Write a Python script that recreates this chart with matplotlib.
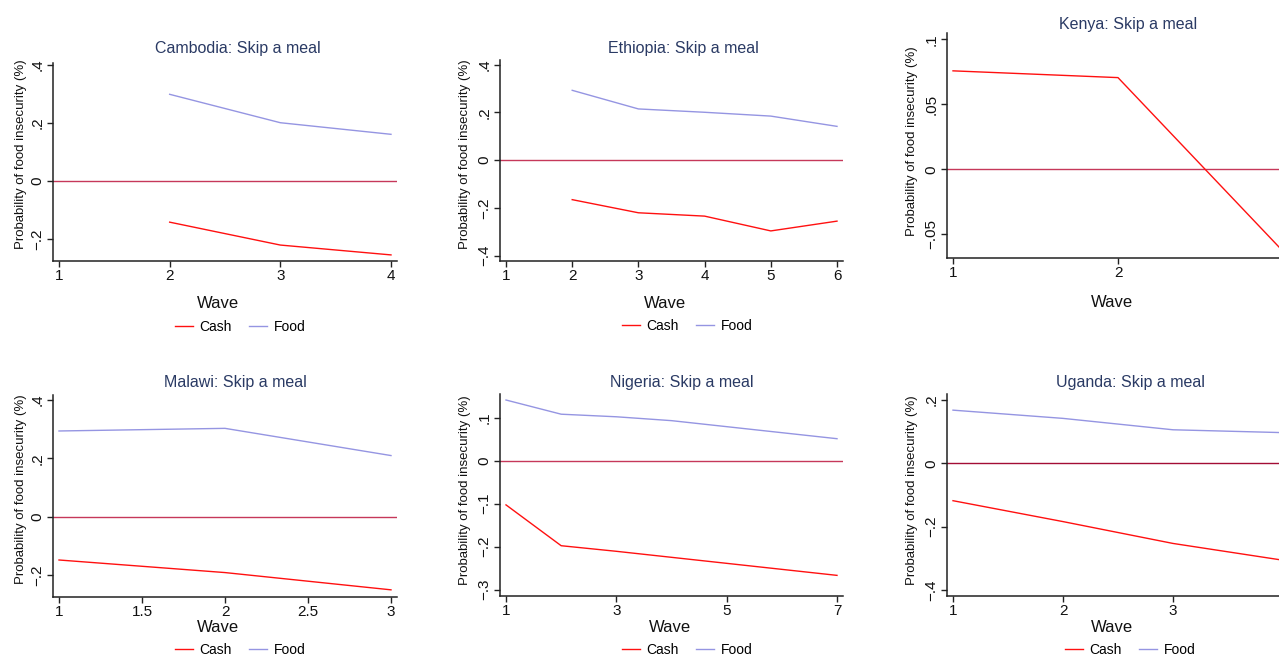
import matplotlib
matplotlib.use("Agg")
import matplotlib.pyplot as plt
from matplotlib.lines import Line2D

plt.rcParams['font.family'] = ['Liberation Sans', 'DejaVu Sans']

# ---- data ----
countries = ["Cambodia", "Ethiopia", "Kenya", "Malawi", "Nigeria", "Uganda"]

cambodia_waves = [2, 3, 4]
cambodia_cash = [-0.142, -0.221, -0.255]
cambodia_food = [0.299, 0.201, 0.161]

ethiopia_waves = [2, 3, 4, 5, 6]
ethiopia_cash = [-0.166, -0.221, -0.235, -0.297, -0.256]
ethiopia_food = [0.292, 0.214, 0.200, 0.184, 0.141]

kenya_waves = [1, 2, 3]
kenya_cash = [0.0757, 0.0705, -0.063]
kenya_food = None

malawi_waves = [1, 2, 3]
malawi_cash = [-0.147, -0.190, -0.249]
malawi_food = [0.294, 0.303, 0.210]

nigeria_waves = [1, 2, 3, 4, 5, 6, 7]
nigeria_cash = [-0.103, -0.198, -0.211, -0.225, -0.239, -0.253, -0.267]
nigeria_food = [0.141, 0.108, 0.102, 0.093, 0.079, 0.065, 0.051]

uganda_waves = [1, 2, 3, 4]
uganda_cash = [-0.118, -0.184, -0.253, -0.306]
uganda_food = [0.168, 0.142, 0.106, 0.097]

waves = [cambodia_waves, ethiopia_waves, kenya_waves, malawi_waves, nigeria_waves, uganda_waves]
cash = [cambodia_cash, ethiopia_cash, kenya_cash, malawi_cash, nigeria_cash, uganda_cash]
food = [cambodia_food, ethiopia_food, kenya_food, malawi_food, nigeria_food, uganda_food]

xticks = [[1, 2, 3, 4], [1, 2, 3, 4, 5, 6], [1, 2, 3], [1, 1.5, 2, 2.5, 3], [1, 3, 5, 7], [1, 2, 3, 4]]
yticks = [[-0.2, 0, 0.2, 0.4], [-0.4, -0.2, 0, 0.2, 0.4], [-0.05, 0, 0.05, 0.1],
          [-0.2, 0, 0.2, 0.4], [-0.3, -0.2, -0.1, 0, 0.1], [-0.4, -0.2, 0, 0.2]]

# ---- layout (pixels in a 1279x656 canvas; right column runs past the edge) ----
W, H = 1279, 656
# plot boxes: left, right, top, bottom
boxes = [(53, 397, 63, 261), (500, 843, 60, 261), (947, 1289, 33, 258),
         (53, 397, 395, 597), (500, 843, 394, 596), (947, 1289, 394, 596)]
ylims = [(-0.276, 0.407), (-0.423, 0.419), (-0.0682, 0.1048),
         (-0.2735, 0.417), (-0.315, 0.155), (-0.419, 0.219)]
title_pos = [(238, 48), (683, 48), (1128, 24), (235, 383), (682, 383), (1130, 383)]
wave_pos = [(218, 304), (665, 304), (1112, 302), (218, 628), (670, 628), (1112, 628)]
ylab_pos = [(21, 154), (465, 154), (912, 141), (21, 489), (465, 490), (912, 490)]
legend_pos = [(240, 327), (687, 326), None, (240, 650), (687, 650), (1130, 650)]
zero_colors = ["#c6385a", "#c6385a", "#c6385a", "#c6385a", "#c6385a", "#a30d35"]

CASH = "#ff1010"
FOOD = "#9595e2"
TITLE = "#2a3a64"
PAD = 6


def stata_label(v):
    if v == 0:
        return "0"
    s = f"{abs(v):g}"
    if s.startswith("0."):
        s = s[1:]
    return ("\u2212" if v < 0 else "") + s


fig = plt.figure(figsize=(W / 100, H / 100), dpi=100)
fig.patch.set_facecolor("white")

for i, name in enumerate(countries):
    l, r, t, b = boxes[i]
    ax = fig.add_axes([l / W, 1 - b / H, (r - l) / W, (b - t) / H])
    ax.set_facecolor("white")

    x0, x1 = xticks[i][0], xticks[i][-1]
    ppu = (r - l - 2 * PAD) / (x1 - x0)
    ax.set_xlim(x0 - PAD / ppu, x1 + PAD / ppu)
    ax.set_ylim(*ylims[i])

    ax.axhline(0, color=zero_colors[i], lw=1.0, zorder=1)
    ax.plot(waves[i], cash[i], color=CASH, lw=1.0, zorder=3)
    if food[i] is not None:
        ax.plot(waves[i], food[i], color=FOOD, lw=1.0, zorder=2)

    # labels of ticks that fall past the canvas edge are not shown
    xlabels = []
    for v in xticks[i]:
        px = l + PAD + (v - x0) * ppu
        xlabels.append(stata_label(v) if px < W - 3 else "")
    ax.set_xticks(xticks[i])
    ax.set_xticklabels(xlabels)
    ax.set_yticks(yticks[i])
    ax.set_yticklabels([stata_label(v) for v in yticks[i]], rotation=90, va="center")

    for s in ["top", "right"]:
        ax.spines[s].set_visible(False)
    for s in ["left", "bottom"]:
        ax.spines[s].set_linewidth(1.1)
        ax.spines[s].set_color("#222222")
    ax.tick_params(axis="both", direction="out", length=4, width=1.0, color="#222222",
                   labelsize=11, pad=2, labelcolor="#111111")

    tx, ty = title_pos[i]
    fig.text(tx / W, 1 - ty / H, f"{name}: Skip a meal", ha="center", va="center",
             fontsize=11.5, color=TITLE)
    wx, wy = wave_pos[i]
    fig.text(wx / W, 1 - wy / H, "Wave", ha="center", va="center", fontsize=12, color="#111111")
    yx, yy = ylab_pos[i]
    fig.text(yx / W, 1 - yy / H, "Probability of food insecurity (%)", ha="center", va="center",
             rotation=90, fontsize=9.5, color="#111111")

    if legend_pos[i] is not None:
        lx, ly = legend_pos[i]
        handles = [Line2D([], [], color=CASH, lw=1.0), Line2D([], [], color=FOOD, lw=1.0)]
        fig.legend(handles, ["Cash", "Food"], loc="center", bbox_to_anchor=(lx / W, 1 - ly / H),
                   ncol=2, frameon=False, fontsize=10, handlelength=1.3, handletextpad=0.45,
                   columnspacing=1.3, borderpad=0, borderaxespad=0)

fig.savefig("out.png", dpi=100, facecolor="white")
